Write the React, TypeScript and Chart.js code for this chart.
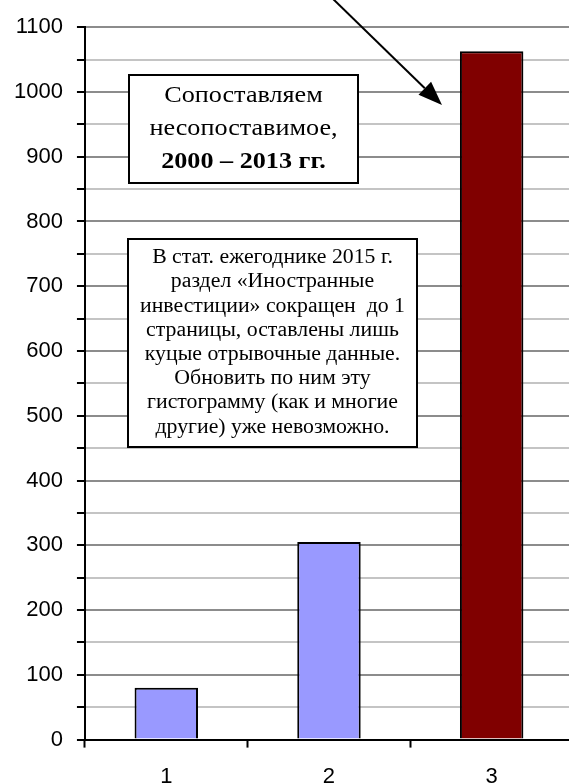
import React, { useEffect, useRef } from "react";
import { Chart, registerables } from "chart.js";

Chart.register(...registerables);

const categories = ["1", "2", "3"];
const values = [80, 305, 1063];
const barColors = ["#9999FF", "#9999FF", "#800000"];
const yMin = 0;
const yMax = 1100;
const yStep = 50;
const box1Lines = ["Сопоставляем", "несопоставимое,", "2000 – 2013 гг."];
const box2Lines = [
  "В стат. ежегоднике 2015 г.",
  "раздел «Иностранные",
  "инвестиции» сокращен  до 1",
  "страницы, оставлены лишь",
  "куцые отрывочные данные.",
  "Обновить по ним эту",
  "гистограмму (как и многие",
  "другие) уже невозможно.",
];

function stretchedText(ctx: CanvasRenderingContext2D, t: string, x: number, y: number, sx: number) {
  ctx.save();
  ctx.translate(x, y);
  ctx.scale(sx, 1);
  ctx.fillText(t, 0, 0);
  ctx.restore();
}

const overlayPlugin = {
  id: "overlay",
  afterDraw(chart: any) {
    const ctx = chart.ctx as CanvasRenderingContext2D;
    ctx.save();
    // Box 1
    ctx.fillStyle = "#ffffff";
    ctx.fillRect(129, 75, 229, 108);
    ctx.strokeStyle = "#000";
    ctx.lineWidth = 2;
    ctx.strokeRect(129, 75, 229, 108);
    ctx.fillStyle = "#000";
    ctx.textAlign = "center";
    ctx.textBaseline = "middle";
    const b1y = [96, 129, 162];
    box1Lines.forEach((t, i) => {
      ctx.font = (i === 2 ? "bold " : "") + "24px 'Liberation Serif'";
      stretchedText(ctx, t, 243.5, b1y[i], 1.09);
    });
    // Box 2
    ctx.fillStyle = "#ffffff";
    ctx.fillRect(128, 239, 289, 208);
    ctx.strokeRect(128, 239, 289, 208);
    ctx.fillStyle = "#000";
    ctx.font = "20px 'Liberation Serif'";
    box2Lines.forEach((t, i) => {
      stretchedText(ctx, t, 272.5, 258 + i * 24.2, 1.09);
    });
    // Arrow
    const x0 = 330, y0 = -4, x1 = 442, y1 = 105;
    const ang = Math.atan2(y1 - y0, x1 - x0);
    const hl = 24, hw = 9;
    const bx = x1 - hl * Math.cos(ang);
    const by = y1 - hl * Math.sin(ang);
    ctx.beginPath();
    ctx.moveTo(x0, y0);
    ctx.lineTo(bx, by);
    ctx.lineWidth = 2;
    ctx.stroke();
    ctx.beginPath();
    ctx.moveTo(x1, y1);
    ctx.lineTo(bx + hw * Math.sin(ang), by - hw * Math.cos(ang));
    ctx.lineTo(bx - hw * Math.sin(ang), by + hw * Math.cos(ang));
    ctx.closePath();
    ctx.fill();
    ctx.restore();
  },
};

export default function App() {
  const ref = useRef<HTMLCanvasElement>(null);
  useEffect(() => {
    if (!ref.current) return;
    const chart = new Chart(ref.current, {
      type: "bar",
      data: {
        labels: categories,
        datasets: [
          {
            data: values,
            backgroundColor: barColors,
            borderColor: "#000",
            borderWidth: 2,
            categoryPercentage: 1,
            barPercentage: 0.39,
          },
        ],
      },
      options: {
        responsive: false,
        animation: false,
        layout: { padding: { left: 0, right: 3, top: 25, bottom: 1 } },
        plugins: { legend: { display: false }, tooltip: { enabled: false } },
        scales: {
          x: {
            grid: {
              drawOnChartArea: false,
              tickLength: 8,
              tickColor: "#000",
              tickWidth: 2,
            },
            border: { display: true, color: "#000", width: 2 },
            ticks: {
              color: "#000",
              padding: 16,
              font: { family: "'Liberation Sans'", size: 22 },
            },
          },
          y: {
            min: yMin,
            max: yMax,
            grid: {
              color: (c: any) =>
                c.tick && c.tick.value % 100 === 0 ? "#8c8c8c" : "#c4c4c4",
              lineWidth: 2,
              tickLength: 8,
              tickColor: "#000",
              tickWidth: 2,
            },
            border: { display: true, color: "#000", width: 2 },
            ticks: {
              stepSize: yStep,
              autoSkip: false,
              color: "#000",
              padding: 14,
              font: { family: "'Liberation Sans'", size: 22 },
              callback: (v: any) => (Number(v) % 100 === 0 ? String(v) : ""),
            },
          },
        },
      },
      plugins: [overlayPlugin],
    });
    return () => chart.destroy();
  }, []);
  return (
    <div
      style={{
        position: "absolute",
        left: 0,
        top: 0,
        width: 569,
        height: 783,
        overflow: "hidden",
        background: "#fff",
      }}
    >
      <canvas ref={ref} width={576} height={807} style={{ display: "block" }} />
    </div>
  );
}
